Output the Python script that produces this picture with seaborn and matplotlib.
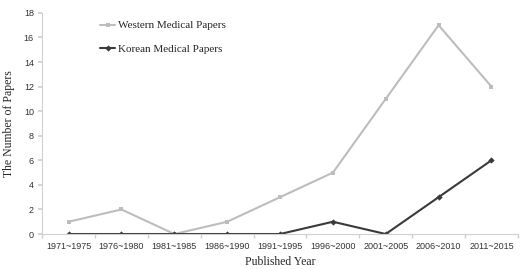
import numpy as np
import pandas as pd
import matplotlib
matplotlib.use("Agg")
import matplotlib.pyplot as plt
import seaborn as sns

# --- data ---
periods = ["1971~1975", "1976~1980", "1981~1985", "1986~1990", "1991~1995",
           "1996~2000", "2001~2005", "2006~2010", "2011~2015"]
western = [1, 2, 0, 1, 3, 5, 11, 17, 12]
korean = [0, 0, 0, 0, 0, 1, 0, 3, 6]

df = pd.DataFrame({
    "period": periods * 2,
    "papers": western + korean,
    "series": ["Western Medical Papers"] * len(periods) + ["Korean Medical Papers"] * len(periods),
})
df["pos"] = list(range(len(periods))) * 2

sns.set_theme(style="white")
plt.rcParams["font.family"] = ["Liberation Serif", "DejaVu Serif"]

fig = plt.figure(figsize=(5.21, 2.69), dpi=100)
ax = fig.add_axes([0.081, 0.130, 0.913, 0.822])

palette = {"Western Medical Papers": "#bdbdbd", "Korean Medical Papers": "#3a3a3a"}
markers = {"Western Medical Papers": "s", "Korean Medical Papers": "D"}
sns.lineplot(data=df, x="pos", y="papers", hue="series", style="series",
             palette=palette, markers=markers, dashes=False, ax=ax,
             linewidth=1.5, markersize=3.2, markeredgewidth=0)

ax.set_xlim(-0.5, len(periods) - 0.5)
ax.set_ylim(0, 18)
ax.set_yticks(range(0, 19, 2))
ax.set_xticks(range(len(periods)))
ax.set_xticklabels(periods)
ax.set_xticks(np.arange(-0.5, len(periods), 1), minor=True)
ax.tick_params(axis="x", which="major", length=0, pad=6, labelsize=6.5, labelcolor="#333333")
ax.tick_params(axis="x", which="minor", length=3, color="#d0d0d0", bottom=True)
ax.tick_params(axis="y", length=3, color="#d0d0d0", left=True, labelsize=6.5, labelcolor="#333333", pad=3)
for lab in ax.get_xticklabels() + ax.get_yticklabels():
    lab.set_family(["Liberation Sans", "DejaVu Sans"])

for s in ["top", "right"]:
    ax.spines[s].set_visible(False)
ax.spines["left"].set_color("#d0d0d0")
ax.spines["bottom"].set_color("#d0d0d0")
ax.spines["left"].set_linewidth(0.8)
ax.spines["bottom"].set_linewidth(0.8)

ax.set_xlabel("Published Year", fontsize=8.5, labelpad=3)
ax.set_ylabel("The Number of Papers", fontsize=8.5, labelpad=6)

leg = ax.legend(loc="upper left", bbox_to_anchor=(0.10, 1.01), frameon=False,
                fontsize=8, handlelength=1.4, handletextpad=0.2, labelspacing=1.2)

fig.savefig("out.png", dpi=100)
